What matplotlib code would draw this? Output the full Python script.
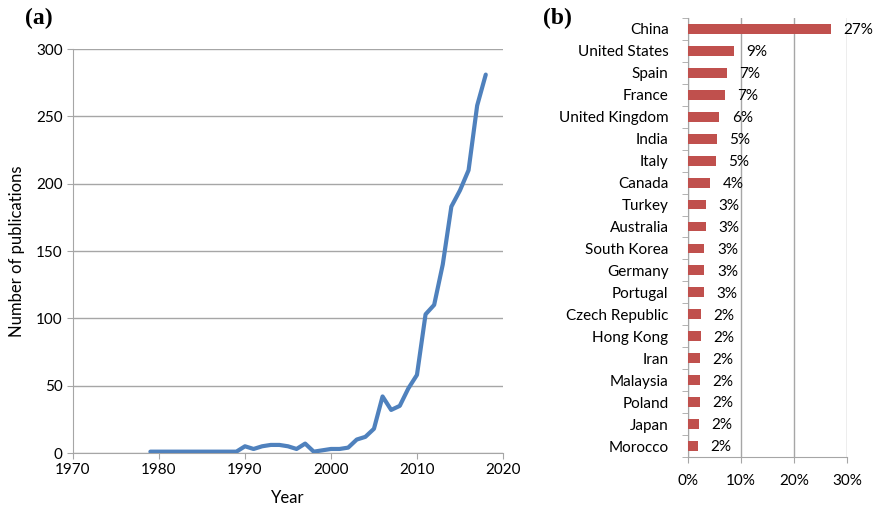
import matplotlib.pyplot as plt
from matplotlib.ticker import FuncFormatter

plt.rcParams['font.family'] = ['Lato', 'DejaVu Sans']

# (a) publications per year
years = list(range(1979, 2019))
pubs = [1, 1, 1, 1, 1, 1, 1, 1, 1, 1,
        1, 5, 3, 5, 6, 6, 5, 3, 7, 1,
        2, 3, 3, 4, 10, 12, 18, 42, 32, 35,
        48, 58, 103, 110, 140, 183, 195, 210, 258, 281]

# (b) share of publications by country
countries = ["China", "United States", "Spain", "France", "United Kingdom",
             "India", "Italy", "Canada", "Turkey", "Australia", "South Korea",
             "Germany", "Portugal", "Czech Republic", "Hong Kong", "Iran",
             "Malaysia", "Poland", "Japan", "Morocco"]
shares = [27.0, 8.7, 7.3, 6.9, 5.9, 5.4, 5.3, 4.2, 3.4, 3.4, 3.1,
          3.1, 3.0, 2.5, 2.4, 2.3, 2.2, 2.2, 2.1, 1.9]
share_labels = ["27%", "9%", "7%", "7%", "6%", "5%", "5%", "4%", "3%", "3%",
                "3%", "3%", "3%", "2%", "2%", "2%", "2%", "2%", "2%", "2%"]

grid_col = '#a6a6a6'

fig = plt.figure(figsize=(8.77, 5.09), dpi=100)

# ---- panel (a)
ax1 = fig.add_axes([0.0832, 0.110, 0.4903, 0.7937])
ax1.plot(years, pubs, color='#4f81bd', lw=3.0, solid_joinstyle='round',
         solid_capstyle='round', zorder=3)
ax1.set_xlim(1970, 2020)
ax1.set_ylim(0, 300)
ax1.set_xticks(range(1970, 2021, 10))
ax1.set_yticks(range(0, 301, 50))
ax1.yaxis.grid(True, color=grid_col, lw=1)
ax1.set_axisbelow(True)
for s in ['top', 'right']:
    ax1.spines[s].set_visible(False)
for s in ['left', 'bottom']:
    ax1.spines[s].set_color(grid_col)
ax1.tick_params(colors=grid_col, labelcolor='black', labelsize=11, length=4)
ax1.set_xlabel("Year", fontsize=12, labelpad=9)
ax1.set_ylabel("Number of publications", fontsize=12, labelpad=8)
fig.text(0.029, 0.963, "(a)", fontsize=17, fontweight='bold',
         family='Liberation Serif', va='center')

# ---- panel (b)
ax2 = fig.add_axes([0.7845, 0.1022, 0.1813, 0.8625])
ypos = list(range(len(countries)))
ax2.barh(ypos, shares, height=0.45, color='#c0504d', zorder=3)
for y, v, lab in zip(ypos, shares, share_labels):
    ax2.annotate(lab, (v, y), xytext=(9, -1), textcoords='offset points',
                 va='center', ha='left', fontsize=11, zorder=4)
ax2.set_ylim(len(countries) - 0.5, -0.5)
ax2.set_xlim(0, 30)
ax2.set_xticks([0, 10, 20, 30])
ax2.xaxis.set_major_formatter(FuncFormatter(lambda v, p: f"{v:.0f}%"))
ax2.set_yticks(ypos)
ax2.set_yticklabels(countries)
ax2.set_yticks([y + 0.5 for y in range(-1, len(countries))], minor=True)
ax2.xaxis.grid(True, color=grid_col, lw=1)
ax2.set_axisbelow(True)
for s in ['top', 'right']:
    ax2.spines[s].set_visible(False)
for s in ['left', 'bottom']:
    ax2.spines[s].set_color(grid_col)
ax2.tick_params(axis='y', which='major', length=0, labelsize=11, pad=14)
ax2.tick_params(axis='y', which='minor', length=4, color=grid_col)
ax2.tick_params(axis='x', length=4, color=grid_col, labelsize=11, pad=8)
fig.text(0.619, 0.963, "(b)", fontsize=17, fontweight='bold',
         family='Liberation Serif', va='center')

fig.savefig("out.png", dpi=100)
